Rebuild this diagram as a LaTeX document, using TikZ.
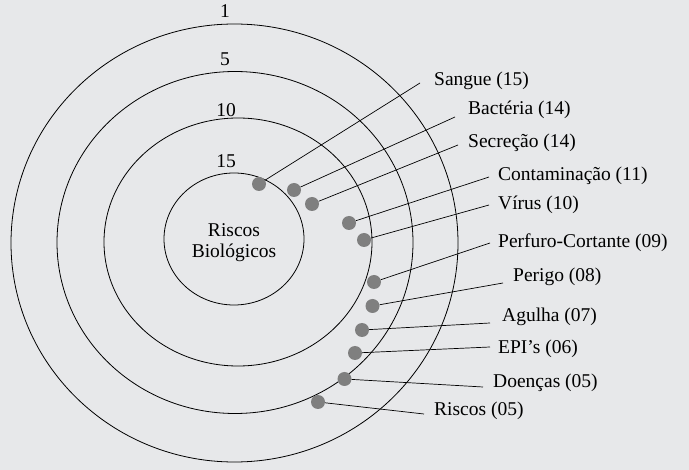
\documentclass[tikz,border=0pt]{standalone}
\usepackage{fontspec}
\setmainfont{Liberation Serif}
\definecolor{bgc}{HTML}{E7E8EA}
\definecolor{dotc}{HTML}{7F7F7F}
\begin{document}
\begin{tikzpicture}[x=1pt,y=-1pt,
  ring/.style={draw=black,line width=0.8pt},
  dotn/.style={circle,fill=dotc,minimum size=14pt,inner sep=0pt},
  lbl/.style={anchor=base west,inner sep=0pt,font=\fontsize{19.5}{21}\selectfont},
  rlbl/.style={anchor=base,inner sep=0pt,font=\fontsize{19.5}{21}\selectfont},
  conn/.style={draw=black,line width=0.7pt}]
\fill[bgc] (0,0) rectangle (689,470);
\useasboundingbox (0,0) rectangle (689,470);
% rings
\draw[ring] (234.5,243) ellipse [x radius=223.5, y radius=219];
\draw[ring] (235,242.5) ellipse [x radius=178, y radius=171];
\draw[ring] (238,242) ellipse [x radius=134, y radius=124];
\draw[ring] (234,239) ellipse [x radius=70, y radius=66];
% ring labels
\node[rlbl] (r1) at (225,18) {1};
\node[rlbl] (r5) at (225,66) {5};
\node[rlbl] (r10) at (226,117) {10};
\node[rlbl] (r15) at (226,168) {15};
% center
\node[rlbl] (c1) at (234,237) {Riscos};
\node[rlbl] (c2) at (234,258) {Biológicos};
% dots
\node[dotn] (d1) at (259,184) {};
\node[dotn] (d2) at (294,190) {};
\node[dotn] (d3) at (312,204) {};
\node[dotn] (d4) at (349,223) {};
\node[dotn] (d5) at (364,240) {};
\node[dotn] (d6) at (374,282) {};
\node[dotn] (d7) at (372.5,306) {};
\node[dotn] (d8) at (362,330) {};
\node[dotn] (d9) at (355,353) {};
\node[dotn] (d10) at (344.5,379) {};
\node[dotn] (d11) at (318,402) {};
% connector ends
\coordinate (e1) at (420,83);
\coordinate (e2) at (455,117);
\coordinate (e3) at (458,145);
\coordinate (e4) at (489,177);
\coordinate (e5) at (489,205);
\coordinate (e6) at (490,243);
\coordinate (e7) at (503,283);
\coordinate (e8) at (490,323);
\coordinate (e9) at (490,347);
\coordinate (e10) at (483,387);
\coordinate (e11) at (424,414);
% labels
\node[lbl] (l1) at (434,86) {Sangue (15)};
\node[lbl] (l2) at (468,115) {Bactéria (14)};
\node[lbl] (l3) at (468,148) {Secreção (14)};
\node[lbl] (l4) at (498,181) {Contaminação (11)};
\node[lbl] (l5) at (498,210) {Vírus (10)};
\node[lbl] (l6) at (498,248) {Perfuro-Cortante (09)};
\node[lbl] (l7) at (513,282) {Perigo (08)};
\node[lbl] (l8) at (502,322) {Agulha (07)};
\node[lbl] (l9) at (498,354) {EPI’s (06)};
\node[lbl] (l10) at (493,388) {Doenças (05)};
\node[lbl] (l11) at (434,416) {Riscos (05)};
% connectors
\foreach \i in {1,...,11} {\draw[conn] (d\i) -- (e\i);}
\end{tikzpicture}
\end{document}
